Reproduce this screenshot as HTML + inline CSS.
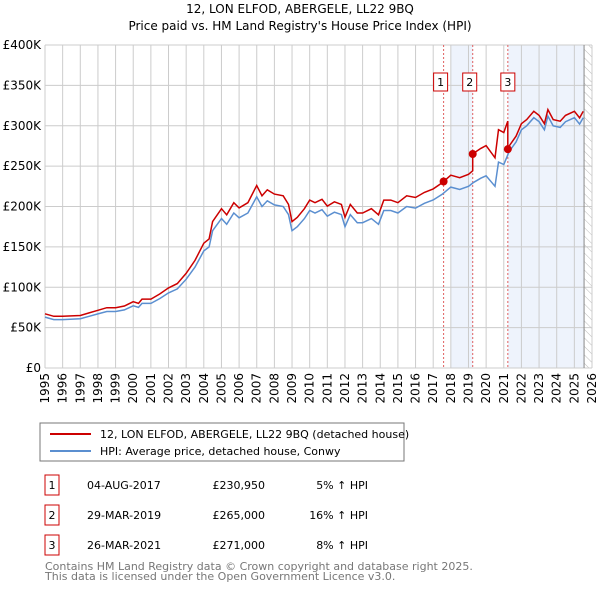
<!DOCTYPE html>
<html><head><meta charset="utf-8"><style>
body{margin:0;background:#fff;font-family:"Liberation Sans","DejaVu Sans",sans-serif;}
svg text{font-family:"DejaVu Sans","Liberation Sans",sans-serif;}
</style></head><body>
<svg id="c" width="600" height="590" viewBox="0 0 600 590">
<defs><pattern id="hatch" width="6" height="6" patternUnits="userSpaceOnUse" patternTransform="rotate(-45)"><line x1="0" y1="0" x2="0" y2="6" stroke="#bbb" stroke-width="1"/></pattern></defs>
<text x="300" y="13" text-anchor="middle" font-size="12">12, LON ELFOD, ABERGELE, LL22 9BQ</text>
<text x="300" y="30" text-anchor="middle" font-size="12">Price paid vs. HM Land Registry's House Price Index (HPI)</text>
<g id="plot"></g>
<rect x="40" y="423" width="364" height="38" fill="#fff" stroke="#777"/>
<line x1="50" y1="434" x2="91" y2="434" stroke="#cc0000" stroke-width="2"/>
<text x="100" y="438" font-size="11">12, LON ELFOD, ABERGELE, LL22 9BQ (detached house)</text>
<line x1="50" y1="451" x2="91" y2="451" stroke="#5b8fd0" stroke-width="2"/>
<text x="100" y="455" font-size="11">HPI: Average price, detached house, Conwy</text>
<g id="table" font-size="11"></g>
<text x="45" y="570" font-size="11" fill="#777">Contains HM Land Registry data © Crown copyright and database right 2025.</text>
<text x="45" y="580" font-size="11" fill="#777">This data is licensed under the Open Government Licence v3.0.</text>
</svg>
<script>
const hpiYears=[1995,1995.5,1996,1997,1997.5,1998,1998.5,1999,1999.5,2000,2000.3,2000.5,2001,2001.5,2002,2002.5,2003,2003.5,2004,2004.3,2004.5,2005,2005.3,2005.7,2006,2006.5,2007,2007.3,2007.6,2008,2008.5,2008.8,2009,2009.3,2009.7,2010,2010.3,2010.7,2011,2011.4,2011.8,2012,2012.3,2012.7,2013,2013.5,2013.9,2014.2,2014.6,2015,2015.5,2016,2016.5,2017,2017.5,2018,2018.5,2019,2019.3,2019.7,2020,2020.5,2020.7,2021,2021.3,2021.7,2022,2022.3,2022.7,2023,2023.3,2023.5,2023.8,2024.2,2024.5,2025,2025.3,2025.5];
const hpiValues=[63,60,60,61,64,67,70,70,72,77,75,80,80,86,93,98,110,125,145,150,170,185,178,192,186,192,212,200,207,202,200,190,170,175,185,195,192,196,188,193,190,175,190,180,180,185,178,195,195,192,200,198,204,208,215,224,221,225,230,235,238,225,255,252,268,280,295,300,310,305,295,312,300,298,305,310,302,310];
const saleYears=[2017.59,2019.24,2021.23];
const salePrices=[230950,265000,271000];
const saleLabels=["1","2","3"];
const saleDates=["04-AUG-2017","29-MAR-2019","26-MAR-2021"];
const salePriceText=["£230,950","£265,000","£271,000"];
const saleHpiText=["5% ↑ HPI","16% ↑ HPI","8% ↑ HPI"];
const yTicks=[0,50,100,150,200,250,300,350,400];
const yTickLabels=["£0","£50K","£100K","£150K","£200K","£250K","£300K","£350K","£400K"];
const xYears=[1995,1996,1997,1998,1999,2000,2001,2002,2003,2004,2005,2006,2007,2008,2009,2010,2011,2012,2013,2014,2015,2016,2017,2018,2019,2020,2021,2022,2023,2024,2025,2026];
const NS="http://www.w3.org/2000/svg";
const L=45,R=592,T=45,B=368;
const xs=y=>L+(y-1995)*(R-L)/31;
const ys=v=>B-v*(B-T)/400;
const g=document.getElementById('plot');
function mk(tag,attrs){const e=document.createElementNS(NS,tag);for(const k in attrs)e.setAttribute(k,attrs[k]);return e;}
function hpiAt(t){for(let i=1;i<hpiYears.length;i++){if(t<=hpiYears[i]){const a=hpiYears[i-1],b=hpiYears[i];return hpiValues[i-1]+(hpiValues[i]-hpiValues[i-1])*(t-a)/(b-a);}}return hpiValues[hpiValues.length-1];}
// shading
let s1=mk('rect',{x:xs(2018.0),y:T,width:xs(saleYears[1])-xs(2018.0),height:B-T,fill:'#eef3fc'});

g.appendChild(s1);
let s2=mk('rect',{x:xs(saleYears[2]),y:T,width:xs(2025.55)-xs(saleYears[2]),height:B-T,fill:'#eef3fc'});

g.appendChild(s2);
let h=mk('rect',{x:xs(2025.55),y:T,width:R-xs(2025.55),height:B-T,fill:'url(#hatch)'});

g.appendChild(h);
// grid
yTicks.forEach((v,i)=>{
 let l=mk('line',{x1:L,x2:R,y1:ys(v),y2:ys(v),stroke:'#ccc'});
 
 g.appendChild(l);
 let t=mk('text',{x:L-4,y:ys(v)+4,'text-anchor':'end','font-size':'12'});t.textContent=yTickLabels[i];
 
 g.appendChild(t);
});
xYears.forEach(yr=>{
 let l=mk('line',{x1:xs(yr),x2:xs(yr),y1:T,y2:B,stroke:'#ccc'});
 
 g.appendChild(l);
 let t=mk('text',{x:0,y:0,'text-anchor':'end','font-size':'12',transform:`translate(${xs(yr)+4},${B+5}) rotate(-90)`});t.textContent=yr;
 
 g.appendChild(t);
});
let edge=mk('line',{x1:xs(2025.55),x2:xs(2025.55),y1:T,y2:B,stroke:'#888'});

g.appendChild(edge);
// sale lines
saleYears.forEach((yr,i)=>{
 let l=mk('line',{x1:xs(yr),x2:xs(yr),y1:T,y2:B,stroke:'#e06060','stroke-dasharray':'2,2'});
 
 g.appendChild(l);
 let bx=mk('rect',{x:xs(yr)-7-(i==2?0:3),y:73,width:14,height:18,fill:'#fff',stroke:'#cc0000'});
 
 g.appendChild(bx);
 let t=mk('text',{x:xs(yr)-(i==2?0:3),y:86,'text-anchor':'middle','font-size':'11'});t.textContent=saleLabels[i];
 
 g.appendChild(t);
});
// HPI line
let d='';hpiYears.forEach((yr,i)=>{d+=(i?'L':'M')+xs(yr).toFixed(1)+','+ys(hpiValues[i]).toFixed(1);});
let hp=mk('path',{d:d,fill:'none',stroke:'#5b8fd0','stroke-width':1.5});

g.appendChild(hp);
// property line: HPI scaled by sale ratio
const ratios=saleYears.map((yr,i)=>salePrices[i]/1000/hpiAt(yr));
function ratioAt(t){if(t<saleYears[1])return ratios[0];if(t<saleYears[2])return ratios[1];return ratios[2];}
const pts=[];hpiYears.forEach((yr,i)=>pts.push([yr,hpiValues[i]*ratioAt(yr)]));
saleYears.forEach((yr,i)=>{pts.push([yr-0.001,hpiAt(yr)*(i?ratios[i-1]:ratios[0])]);pts.push([yr,salePrices[i]/1000]);});
pts.sort((a,b)=>a[0]-b[0]);
let d2='';pts.forEach((p,i)=>{d2+=(i?'L':'M')+xs(p[0]).toFixed(1)+','+ys(p[1]).toFixed(1);});
let pp=mk('path',{d:d2,fill:'none',stroke:'#cc0000','stroke-width':1.5});

g.appendChild(pp);
saleYears.forEach((yr,i)=>{
 let c=mk('circle',{cx:xs(yr),cy:ys(salePrices[i]/1000),r:4,fill:'#cc0000'});
 
 g.appendChild(c);
});
// table
const tb=document.getElementById('table');
saleLabels.forEach((lab,i)=>{
 const y=475+i*30;
 let b=mk('rect',{x:45,y:y,width:14,height:20,fill:'#fff',stroke:'#cc0000'});
 
 tb.appendChild(b);
 const cells=[[52,lab,'middle'],[87,saleDates[i],'start'],[265,salePriceText[i],'end'],[368,saleHpiText[i],'end']];
 cells.forEach(c=>{let t=mk('text',{x:c[0],y:y+14,'text-anchor':c[2]});t.textContent=c[1];
  
  tb.appendChild(t);});
});
</script>
</body></html>
